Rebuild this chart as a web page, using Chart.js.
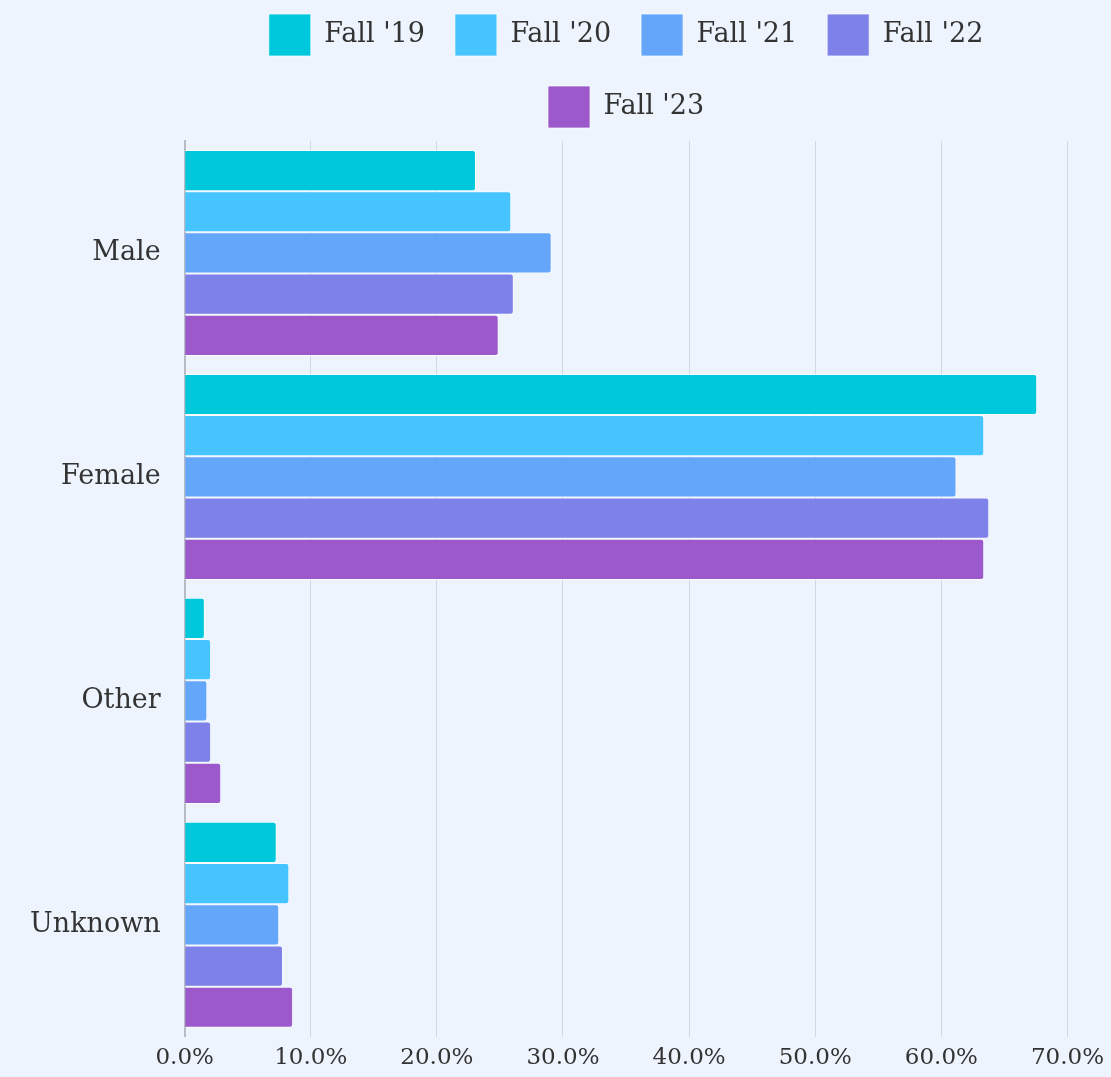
<!DOCTYPE html>
<html>
<head>
<meta charset="utf-8">
<script src="https://cdn.jsdelivr.net/npm/chart.js@4"></script>
<style>
  html, body { margin: 0; padding: 0; background: #eef4fe; }
  #wrap { width: 1111px; height: 1077px; position: relative; }
</style>
</head>
<body>
<div id="wrap"><canvas id="genderChart"></canvas></div>
<script>
// Categories and series (percent)
const categories = ['Male', 'Female', 'Other', 'Unknown'];
const seriesLabels = ["Fall '19", "Fall '20", "Fall '21", "Fall '22", "Fall '23"];
const fall19 = [23.1, 67.6, 1.6, 7.3];
const fall20 = [25.9, 63.4, 2.1, 8.3];
const fall21 = [29.1, 61.2, 1.8, 7.5];
const fall22 = [26.1, 63.8, 2.1, 7.8];
const fall23 = [24.9, 63.4, 2.9, 8.6];
const colors = ['#00c8dc', '#45c4ff', '#64a6fa', '#7e82e8', '#9b59cc'];

const seriesData = [fall19, fall20, fall21, fall22, fall23];

Chart.defaults.font.family = '"DejaVu Serif", serif';
Chart.defaults.color = '#333';

// a bit of space under the legend
const legendGap = {
  id: 'legendGap',
  afterInit(chart) {
    const orig = chart.legend.fit;
    chart.legend.fit = function () {
      orig.call(this);
      this.height += 3;
    };
  },
};

const ctx = document.getElementById('genderChart').getContext('2d');
new Chart(ctx, {
  type: 'bar',
  data: {
    labels: categories,
    datasets: seriesLabels.map((label, i) => ({
      label: label,
      data: seriesData[i],
      backgroundColor: colors[i],
      borderColor: 'rgba(255,255,255,0.7)',
      borderWidth: 1,
      borderRadius: 3,
      borderSkipped: 'start',
      barPercentage: 1.0,
      categoryPercentage: 0.92,
    })),
  },
  plugins: [legendGap],
  options: {
    indexAxis: 'y',
    responsive: true,
    maintainAspectRatio: false,
    animation: false,
    layout: { padding: { left: 6, right: 28, top: -16, bottom: -17 } },
    plugins: {
      legend: {
        position: 'top',
        fullSize: false,
        labels: {
          boxWidth: 42,
          boxHeight: 42,
          padding: 30,
          font: { size: 27 },
        },
      },
      tooltip: { enabled: false },
    },
    scales: {
      x: {
        min: 0,
        max: 70,
        ticks: {
          stepSize: 10,
          font: { size: 23 },
          padding: 7,
          callback: (v) => v.toFixed(1) + '%',
        },
        grid: { color: '#d3d8e0', drawTicks: false },
        border: { display: false },
      },
      y: {
        ticks: { font: { size: 27 }, padding: 24 },
        grid: { display: false, drawTicks: false },
        border: { display: true, color: '#b8bcc4', width: 2 },
      },
    },
  },
});
</script>
</body>
</html>
